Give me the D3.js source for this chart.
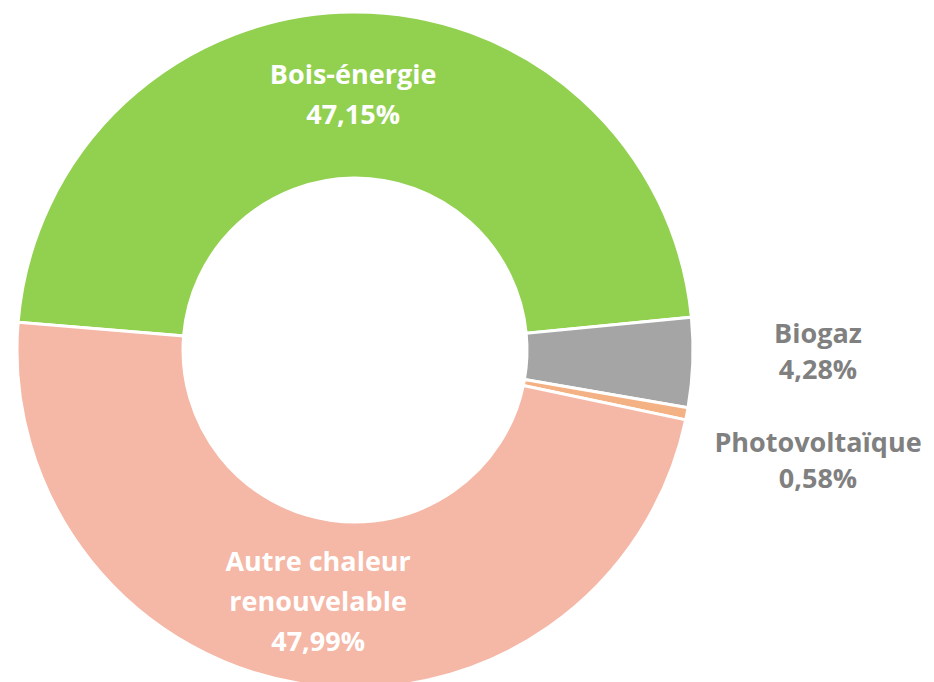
<!DOCTYPE html>
<html>
<head>
<meta charset="utf-8">
<script src="https://cdn.jsdelivr.net/npm/d3@7"></script>
<style>
  body { margin: 0; background: #fff; }
  svg { display: block; }
  text { font-family: "Open Sans", "DejaVu Sans", sans-serif; font-weight: 700; }
</style>
</head>
<body>
<script>
// données du graphique
var categories = ["Bois-énergie", "Biogaz", "Photovoltaïque", "Autre chaleur renouvelable"];
var valeurs = [47.15, 4.28, 0.58, 47.99];
var lignesLabel = [["Bois-énergie"], ["Biogaz"], ["Photovoltaïque"], ["Autre chaleur", "renouvelable"]];
var couleurs = ["#92d050", "#a5a5a5", "#f4b183", "#f5b7a6"];
var interieur = [true, false, false, true];

var largeur = 934, hauteur = 682;
var cx = 355, cy = 350, rExt = 338, rInt = 172;

function fmt(v) {
    return v.toFixed(2).replace(".", ",") + "%";
}

function dibujar() {
    var svg = d3.select("body").append("svg").attr("width", largeur).attr("height", hauteur);
    var g = svg.append("g").attr("transform", "translate(" + cx + "," + cy + ")");

    var donnees = categories.map(function (c, i) { return { nom: c, valeur: valeurs[i], i: i }; });
    var pie = d3.pie().sort(null).value(function (d) { return d.valeur; })
        .startAngle(-85.3 * Math.PI / 180).endAngle((360 - 85.3) * Math.PI / 180);
    var arcs = pie(donnees);
    var arc = d3.arc().innerRadius(rInt).outerRadius(rExt);

    g.selectAll("path").data(arcs).enter().append("path")
        .attr("d", arc)
        .attr("fill", function (d) { return couleurs[d.data.i]; })
        .attr("stroke", "#fff").attr("stroke-width", 3);

    // étiquettes intérieures (centroïde)
    var pas = 40;
    arcs.filter(function (d) { return interieur[d.data.i]; }).forEach(function (d) {
        var c = arc.centroid(d);
        var lignes = lignesLabel[d.data.i].concat([fmt(d.data.valeur)]);
        var y0 = c[1] - (lignes.length - 1) * pas / 2 + 9;
        var t = g.append("text").attr("text-anchor", "middle").attr("fill", "#fff").attr("font-size", 27);
        lignes.forEach(function (l, k) {
            t.append("tspan").attr("x", c[0]).attr("y", y0 + k * pas).text(l);
        });
    });

    // étiquettes extérieures
    var rLabel = 463, yPrec = -Infinity;
    arcs.filter(function (d) { return !interieur[d.data.i]; }).forEach(function (d) {
        var a = (d.startAngle + d.endAngle) / 2;
        var y = -rLabel * Math.cos(a) - 24;
        if (y < yPrec + 109) y = yPrec + 109;
        yPrec = y;
        var lignes = lignesLabel[d.data.i].concat([fmt(d.data.valeur)]);
        var t = g.append("text").attr("text-anchor", "middle").attr("fill", "#808080").attr("font-size", 27);
        lignes.forEach(function (l, k) {
            t.append("tspan").attr("x", rLabel).attr("y", y + k * 36).text(l);
        });
    });
}
window.onload = dibujar;
</script>
</body>
</html>
